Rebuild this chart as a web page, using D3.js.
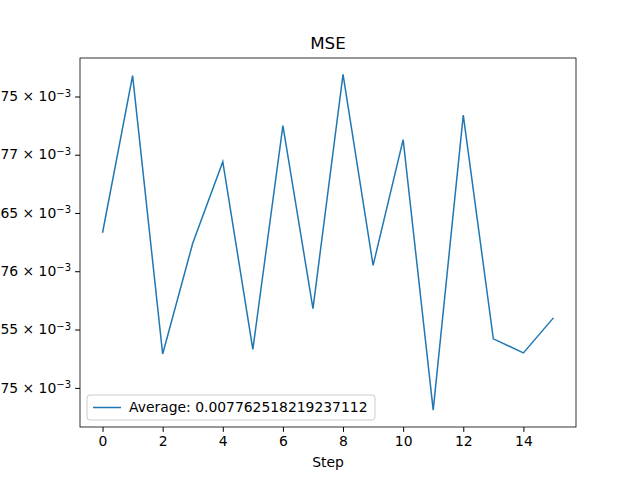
<!DOCTYPE html>
<html><head><meta charset="utf-8">
<script src="https://cdn.jsdelivr.net/npm/d3@7"></script>
<style>body{margin:0;background:#fff}text{font-family:"DejaVu Sans",sans-serif}</style>
</head><body><div id="chart"></div>
<script>
// MSE per step (values x 1e-3)
const steps = d3.range(16);
const mse = [7.7633, 7.7768, 7.7529, 7.7624, 7.7694, 7.7533, 7.7725, 7.7568,
  7.7769, 7.7605, 7.7713, 7.7481, 7.7734, 7.7542, 7.7530, 7.7560];
const yTicks = [7.75, 7.755, 7.76, 7.765, 7.77, 7.775];
const yTickLabels = ["7.75", "7.755", "7.76", "7.765", "7.77", "7.775"];
const xTicks = [0, 2, 4, 6, 8, 10, 12, 14];
const legendText = "Average: 0.007762518219237112";

const margin = { top: 58, right: 64, bottom: 53, left: 80 };
const width = 640 - margin.left - margin.right;
const height = 480 - margin.top - margin.bottom;

const svg = d3.select("#chart").append("svg")
  .attr("width", 640).attr("height", 480)
  .append("g")
  .attr("transform", "translate(" + margin.left + "," + margin.top + ")");

const x = d3.scaleLinear().domain([-0.75, 15.75]).range([0, width]);
const y = d3.scaleLog().domain([7.74665, 7.77831]).range([height, 0]);

// X axis
const xa = svg.append("g")
  .attr("transform", "translate(0," + height + ")")
  .call(d3.axisBottom(x).tickValues(xTicks).tickSize(4.9).tickPadding(4));
xa.selectAll("text").attr("font-size", 13.9).attr("fill", "#000");

// Y axis with scientific labels
const ya = svg.append("g")
  .call(d3.axisLeft(y).tickValues(yTicks).tickSize(4.9).tickFormat(""));
ya.selectAll(".tick").each(function (d, i) {
  const t = d3.select(this).append("text")
    .attr("x", -9).attr("dy", "0.3em")
    .attr("text-anchor", "end").attr("font-size", 13.9).attr("fill", "#000");
  t.append("tspan").text(yTickLabels[i] + " \u00d7 10");
  t.append("tspan").attr("dy", "-0.45em").attr("font-size", 10).text("\u22123");
});
svg.selectAll(".domain").remove();
svg.append("rect").attr("width", width).attr("height", height)
  .attr("fill", "none").attr("stroke", "#000").attr("stroke-width", 0.8);

// Line
const line = d3.line().x((d, i) => x(steps[i])).y(d => y(d));
svg.append("path").datum(mse).attr("d", line)
  .attr("fill", "none").attr("stroke", "#1f77b4").attr("stroke-width", 1.5);

// Title and label
svg.append("text").attr("x", width / 2).attr("y", -9)
  .attr("text-anchor", "middle").attr("font-size", 16.7).text("MSE");
svg.append("text").attr("x", width / 2).attr("y", height + 40)
  .attr("text-anchor", "middle").attr("font-size", 13.9).text("Step");

// Legend
const lg = svg.append("g").attr("transform", "translate(7," + (height - 32) + ")");
lg.append("rect").attr("width", 288).attr("height", 25).attr("rx", 3)
  .attr("fill", "#fff").attr("fill-opacity", 0.8).attr("stroke", "#ccc");
lg.append("line").attr("x1", 6).attr("x2", 34).attr("y1", 12.5).attr("y2", 12.5)
  .attr("stroke", "#1f77b4").attr("stroke-width", 1.5);
lg.append("text").attr("x", 42).attr("y", 12.5).attr("dy", "0.35em")
  .attr("font-size", 13.9).text(legendText);
</script></body></html>
